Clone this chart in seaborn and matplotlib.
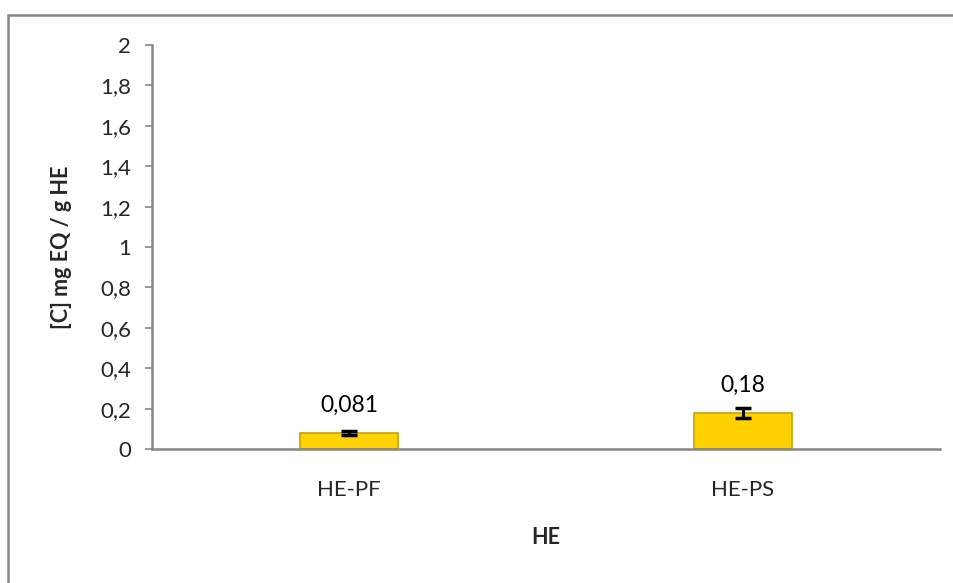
import matplotlib
matplotlib.use("Agg")
import matplotlib.pyplot as plt
import seaborn as sns
import pandas as pd
from matplotlib.patches import Rectangle
from matplotlib.ticker import FuncFormatter

categories = ["HE-PF", "HE-PS"]
values = [0.081, 0.18]
errors = [0.01, 0.025]
value_labels = ["0,081", "0,18"]
y_ticks = [0, 0.2, 0.4, 0.6, 0.8, 1, 1.2, 1.4, 1.6, 1.8, 2]

sns.set_theme(style="white")
plt.rcParams["font.family"] = ["Lato", "DejaVu Sans"]

W, H = 954, 583
fig = plt.figure(figsize=(W / 100, H / 100), dpi=100)
ax = fig.add_axes([152 / W, 1 - 449 / H, (940 - 152) / W, (449 - 45) / H])

df = pd.DataFrame({"cat": categories, "val": values})
sns.barplot(data=df, x="cat", y="val", ax=ax, width=0.25, color="#FFD200",
            edgecolor="#C9A200", linewidth=1.2, errorbar=None, saturation=1)
ax.errorbar(range(len(categories)), values, yerr=errors, fmt="none",
            ecolor="black", elinewidth=2.2, capsize=6, capthick=2.5, zorder=5)

for i, (v, lab) in enumerate(zip(values, value_labels)):
    ax.annotate(lab, (i, v), xytext=(0, 20), textcoords="offset points",
                ha="center", va="center", fontsize=16.5, color="black")

ax.set_xlim(-0.5, 1.5)
ax.set_ylim(0, 2)
ax.set_yticks(y_ticks)
ax.yaxis.set_major_formatter(FuncFormatter(lambda x, p: f"{x:g}".replace(".", ",")))
ax.tick_params(axis="y", which="major", left=True, length=5, width=1.2,
               color="#868686", labelsize=16, pad=10)
ax.tick_params(axis="x", bottom=False, labelsize=16, pad=16)

for s in ["top", "right"]:
    ax.spines[s].set_visible(False)
for s in ["left", "bottom"]:
    ax.spines[s].set_color("#868686")
    ax.spines[s].set_linewidth(1.8)

ax.set_xlabel("HE", fontsize=15.5, fontweight="bold", labelpad=20)
ax.set_ylabel("[C] mg EQ / g HE", fontsize=15.5, fontweight="bold", labelpad=20)

fig.patches.append(Rectangle((8 / W, -0.1), 1.2, 1 - 15 / H + 0.1,
                             transform=fig.transFigure, fill=False,
                             edgecolor="#868686", linewidth=1.8))

fig.savefig("out.png", dpi=100)
